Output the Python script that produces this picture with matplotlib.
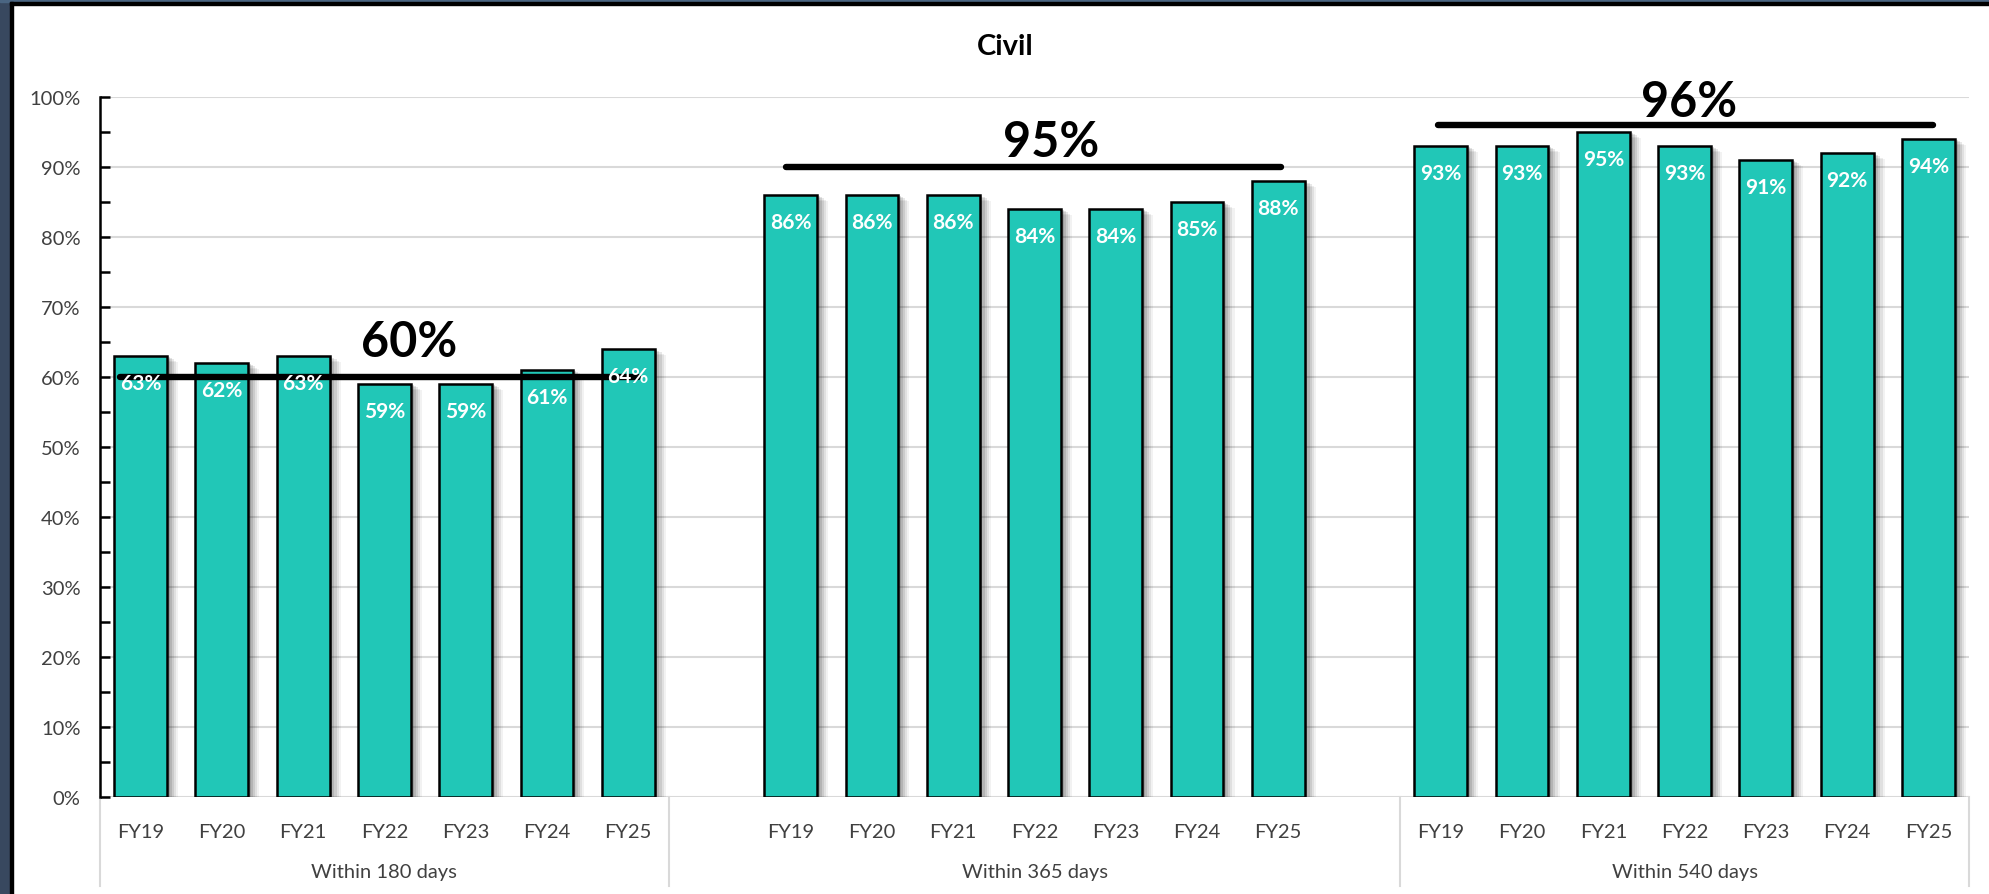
"""
Civil case clearance rates by fiscal year, grouped by time to disposition
"""
import numpy as np
import matplotlib.pyplot as plt
from matplotlib import patheffects as pe
from matplotlib.patches import Rectangle

plt.rcParams['font.family'] = ['Lato', 'DejaVu Sans']

# data
periods = ["FY19", "FY20", "FY21", "FY22", "FY23", "FY24", "FY25"]
groups = ["Within 180 days", "Within 365 days", "Within 540 days"]
within_180 = [63, 62, 63, 59, 59, 61, 64]
within_365 = [86, 86, 86, 84, 84, 85, 88]
within_540 = [93, 93, 95, 93, 91, 92, 94]
target_labels = ["60%", "95%", "96%"]
target_levels = [60, 90, 96]

series = [within_180, within_365, within_540]

# layout: slot offsets of each group (one blank slot each side of the middle group)
group_start = [0, 8, 16]
group_edges = [-0.5, 6.5, 15.5, 22.5]
line_span = [(-0.25, 6.12), (-0.06, 6.03), (-0.03, 6.06)]
label_pos = [(3.3, 65.1), (3.2, 93.7), (3.06, 99.4)]

bar_color = '#21C7B7'
grid_color = '#D9D9D9'
text_color = '#404040'

W, H = 1989, 895
fig = plt.figure(figsize=(W / 100, H / 100), dpi=100)
fig.patch.set_facecolor('white')
ax = fig.add_axes([100 / W, 1 - 798 / H, 1869 / W, 700 / H])

# soft drop shadow made of a few stacked offsets
shadow = [pe.SimplePatchShadow(offset=(o, -o * 0.5), shadow_rgbFace='k', alpha=a)
          for o, a in [(8, 0.05), (6.5, 0.07), (5, 0.09), (3.5, 0.11), (2, 0.13)]]
shadow.append(pe.Normal())

for g, vals in enumerate(series):
    x = group_start[g] + np.arange(len(vals))
    bars = ax.bar(x, vals, width=0.65, color=bar_color, edgecolor='black',
                  linewidth=1.8, zorder=3)
    for b in bars:
        b.set_path_effects(shadow)
    for xi, v in zip(x, vals):
        ax.text(xi, v - 3.8, f"{v}%", ha='center', va='center', color='white',
                fontsize=15, fontweight='bold', zorder=6)
    for xi, p in zip(x, periods):
        ax.text(xi, -4.9, p, ha='center', va='center', color=text_color,
                fontsize=14.5, clip_on=False)
    ax.text((group_edges[g] + group_edges[g + 1]) / 2, -10.7, groups[g],
            ha='center', va='center', color=text_color, fontsize=14.5, clip_on=False)

    # target line and its label
    x0, x1 = line_span[g]
    ax.plot([group_start[g] + x0, group_start[g] + x1], [target_levels[g]] * 2,
            color='black', lw=4.6, solid_capstyle='round', zorder=5)
    lx, ly = label_pos[g]
    ax.text(group_start[g] + lx, ly, target_labels[g], ha='center', va='center',
            fontsize=35, fontweight='bold', color='black', zorder=6, clip_on=False)

# category frame below the axis
for e in group_edges:
    ax.plot([e, e], [0, -12.7], color=grid_color, lw=1.5, clip_on=False, zorder=1)

ax.set_xlim(-0.5, 22.5)
ax.set_ylim(0, 100)
ax.set_xticks([])
ax.set_yticks(np.arange(0, 101, 10))
ax.set_yticks(np.arange(5, 100, 10), minor=True)
ax.set_yticklabels([f"{t}%" for t in range(0, 101, 10)])
ax.tick_params(axis='y', which='both', direction='in', length=7, width=1.8,
               color='black', labelsize=14.5, labelcolor=text_color, pad=14)
ax.yaxis.grid(True, color=grid_color, lw=1.5, zorder=0)
ax.set_axisbelow(True)
for s in ['top', 'right', 'bottom']:
    ax.spines[s].set_visible(False)
ax.spines['left'].set_linewidth(1.8)
ax.spines['left'].set_zorder(4)

fig.text(1005 / W, 1 - 47 / H, "Civil", ha='center', va='center',
         fontsize=21, fontweight='bold', color='black')

# slide frame: blue-grey strips with a black inner edge
fig.patches.append(Rectangle((0, 0), 10 / W, 1, transform=fig.transFigure,
                             color='#38485F', zorder=10))
fig.patches.append(Rectangle((0, 1 - 3 / H), 1, 3 / H, transform=fig.transFigure,
                             color='#4A6582', zorder=10))
fig.patches.append(Rectangle((10 / W, 0), 2.5 / W, 1 - 3 / H, transform=fig.transFigure,
                             color='black', zorder=11))
fig.patches.append(Rectangle((10 / W, 1 - 6 / H), 1, 3 / H, transform=fig.transFigure,
                             color='black', zorder=11))

fig.savefig('out.png', dpi=100)
